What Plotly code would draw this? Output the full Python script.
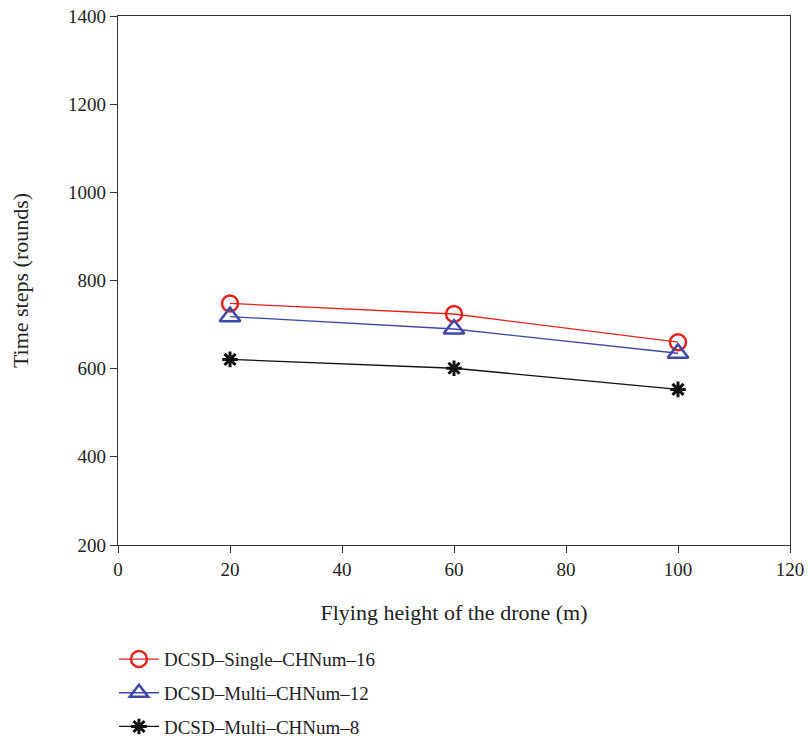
import plotly.graph_objects as go

heights = [20, 60, 100]
single_16 = [748, 724, 660]
multi_12 = [718, 690, 635]
multi_8 = [621, 601, 553]
names = ["DCSD\u2013Single\u2013CHNum\u201316", "DCSD\u2013Multi\u2013CHNum\u201312", "DCSD\u2013Multi\u2013CHNum\u20138"]

FONT = "Liberation Serif"
FS = 19
TFS = 22

fig = go.Figure()
fig.add_trace(go.Scatter(x=heights, y=single_16, name=names[0], mode="lines+markers",
                         line=dict(color="#e3241c", width=1.3), legendgroup="a",
                         marker=dict(symbol="circle-open", size=16, color="#e3241c", line=dict(width=2.5))))
fig.add_trace(go.Scatter(x=heights, y=multi_12, name=names[1], mode="lines+markers",
                         line=dict(color="#3d47a6", width=1.3), legendgroup="b",
                         marker=dict(symbol="triangle-up-open", size=18, color="#3d47a6", line=dict(width=2.5))))
fig.add_trace(go.Scatter(x=heights, y=multi_8, name=names[2], mode="lines+markers",
                         line=dict(color="#111111", width=1.3), legendgroup="c",
                         marker=dict(symbol="asterisk-open", size=13, color="#111111", line=dict(width=3))))

axis_common = dict(showline=True, linecolor="#333333", linewidth=1.3, mirror=True,
                   ticks="outside", ticklen=7, tickcolor="#333333", showgrid=False, zeroline=False,
                   ticklabeloverflow="allow",
                   tickfont=dict(family=FONT, size=FS, color="#222222"))

fig.update_xaxes(range=[0, 120], tickvals=[0, 20, 40, 60, 80, 100, 120],
                 title=dict(text="Flying height of the drone (m)", font=dict(family=FONT, size=TFS, color="#222222"), standoff=25),
                 **axis_common)
fig.update_yaxes(range=[200, 1400], tickvals=[200, 400, 600, 800, 1000, 1200, 1400],
                 title=dict(text="Time steps (rounds)", font=dict(family=FONT, size=TFS, color="#222222"), standoff=33),
                 **axis_common)

fig.update_layout(width=808, height=741, plot_bgcolor="white", paper_bgcolor="white",
                  margin=dict(l=118, r=18, t=16, b=196, autoexpand=False),
                  font=dict(family=FONT, size=FS, color="#222222"),
                  legend=dict(x=-0.006, y=-0.18, xanchor="left", yanchor="top", orientation="v",
                              itemwidth=40, tracegroupgap=6, font=dict(family=FONT, size=FS),
                              bgcolor="rgba(0,0,0,0)"))

fig.write_html("out.html", config={"displayModeBar": False},
               post_script="document.body.style.margin='0';document.body.style.overflow='hidden';")
